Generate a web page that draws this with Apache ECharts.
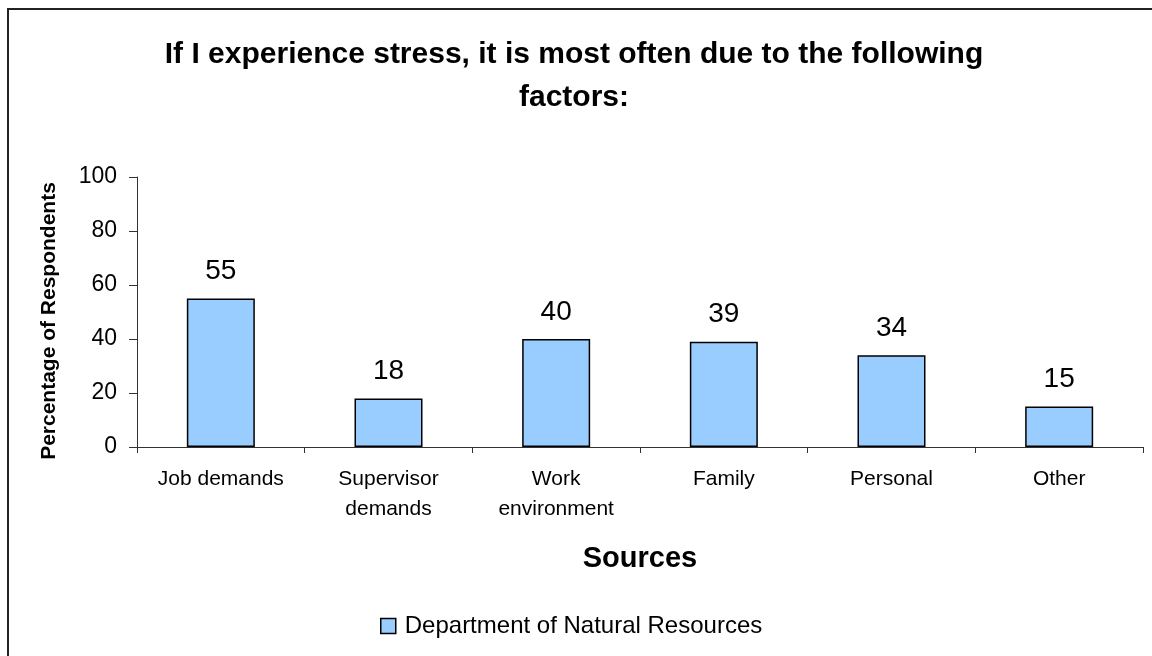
<!DOCTYPE html>
<html>
<head>
<meta charset="utf-8">
<script src="https://cdn.jsdelivr.net/npm/echarts@6/dist/echarts.min.js"></script>
<style>
  html, body { margin: 0; padding: 0; background: #fff; }
  #chart { width: 1152px; height: 656px; }
</style>
</head>
<body>
<div id="chart"></div>
<script>
const categories = ["Job demands", "Supervisor\ndemands", "Work\nenvironment", "Family", "Personal", "Other"];
const dnrValues = [55, 18, 40, 39, 34, 15];
const yTicks = { min: 0, max: 100, interval: 20 };

const FONT = "'Liberation Sans', Arial, sans-serif";

const chart = echarts.init(document.getElementById("chart"));
chart.setOption({
    backgroundColor: "#fff",
    animation: false,
    graphic: [
        {
            type: "rect",
            shape: { x: 8, y: 9, width: 1200, height: 700 },
            style: { fill: "none", stroke: "#222", lineWidth: 2 },
        },
    ],
    title: {
        text: "If I experience stress, it is most often due to the following\nfactors:",
        left: 569,
        top: 28,
        textAlign: "center",
        textStyle: {
            fontFamily: FONT,
            fontSize: 30,
            fontWeight: "bold",
            color: "#000",
            lineHeight: 43,
        },
    },
    grid: {
        left: 137,
        right: 9,
        top: 177,
        bottom: 209,
        containLabel: false,
    },
    legend: {
        data: ["Department of Natural Resources"],
        left: 375,
        top: 609,
        itemWidth: 15,
        itemHeight: 15,
        icon: "rect",
        textStyle: { fontFamily: FONT, fontSize: 24, color: "#000", padding: [0, 0, 0, 4] },
        itemStyle: { borderColor: "#000", borderWidth: 1.5 },
    },
    xAxis: {
        type: "category",
        data: categories,
        name: "Sources",
        nameLocation: "middle",
        nameGap: 97,
        nameTextStyle: { fontFamily: FONT, fontSize: 29, fontWeight: "bold", color: "#000" },
        axisLine: { lineStyle: { color: "#333", width: 1 } },
        axisTick: { show: true, length: 6, alignWithLabel: false, lineStyle: { color: "#333" } },
        axisLabel: {
            fontFamily: FONT,
            fontSize: 21,
            color: "#000",
            margin: 17,
            lineHeight: 30,
            interval: 0,
        },
    },
    yAxis: {
        type: "value",
        min: yTicks.min,
        max: yTicks.max,
        interval: yTicks.interval,
        name: "Percentage of Respondents",
        nameLocation: "middle",
        nameRotate: 90,
        nameGap: 77,
        nameTextStyle: {
            fontFamily: FONT,
            fontSize: 21,
            fontWeight: "bold",
            color: "#000",
            padding: [0, 18, 0, 0],
        },
        axisLine: { show: true, lineStyle: { color: "#333", width: 1 } },
        axisTick: { show: true, length: 8, lineStyle: { color: "#333" } },
        splitLine: { show: false },
        axisLabel: { fontFamily: FONT, fontSize: 23, color: "#000", margin: 20 },
    },
    series: [
        {
            name: "Department of Natural Resources",
            type: "bar",
            data: dnrValues,
            barWidth: 68,
            itemStyle: { color: "#99CCFF", borderColor: "#000", borderWidth: 1.5 },
            label: {
                show: true,
                position: "top",
                distance: 13,
                fontFamily: FONT,
                fontSize: 28,
                color: "#000",
            },
        },
    ],
});
</script>
</body>
</html>
